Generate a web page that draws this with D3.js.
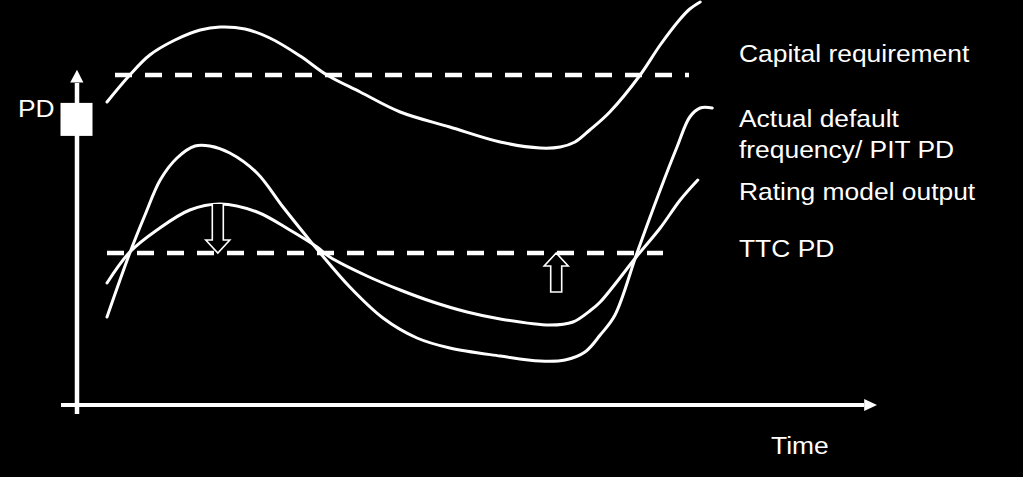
<!DOCTYPE html>
<html>
<head>
<meta charset="utf-8">
<script src="https://cdn.jsdelivr.net/npm/d3@7"></script>
<style>
  html, body { margin: 0; padding: 0; background: #000; }
  svg { display: block; }
  text { font-family: "Liberation Sans", Arial, sans-serif; fill: #fff; }
</style>
</head>
<body>
<svg id="chart" width="1023" height="477"></svg>
<script>
// ---- Data (time units 0..100, PD units 0..100) ----
const capitalTime = [3.75, 6.6, 9.1, 12.25, 15.4, 17.9, 21, 24.1, 27.9, 31.25, 35.4, 40.4, 46.6, 52.9, 57.9, 60.4, 62.25, 64.1, 66.6, 70.4, 72.9, 75.4, 76.6, 77.9];
const capitalPD   = [75.75, 82.5, 87.5, 91.25, 93.75, 94.5, 94, 91.75, 87.25, 82.5, 78.25, 73.25, 69.5, 65.75, 64.25, 64.5, 65.75, 68.75, 73.25, 82.5, 90, 96.5, 99, 100.75];

const pitTime = [3.75, 6.6, 8.5, 10.4, 12.5, 14.75, 16.6, 19.1, 22.5, 25.75, 28.75, 30.4, 34.1, 38.25, 42.5, 46.6, 52.9, 57.9, 61, 63.5, 65.4, 67.25, 70, 72.9, 75, 76.6, 77.9, 79.4];
const pitPD   = [22, 38, 47.5, 56.25, 61.75, 64.75, 64.75, 63, 58, 49.5, 42, 38, 29.5, 21.75, 16.75, 14.25, 12.25, 11, 11.25, 13.25, 17.5, 22.5, 38, 53.75, 64.5, 72, 74.25, 74.25];

const ratingTime = [3.75, 6.6, 10, 14.1, 17.9, 22.5, 26.6, 30, 31.6, 36.25, 40.4, 44.5, 48.75, 52.9, 59.1, 62, 64.1, 65.4, 70, 72.9, 75.4, 77.6];
const ratingPD   = [30.5, 38.25, 43.75, 48.75, 50.25, 48.25, 43.75, 39.5, 37, 32.25, 28.75, 25.75, 23.25, 21.5, 20, 20.75, 23.5, 25.75, 37.25, 44.25, 51.25, 56.25];

const capitalLevel = 82.5, capitalStart = 4.75, capitalEnd = 76.5;
const ttcLevel = 38, ttcStart = 3.75, ttcEnd = 73.25;

const arrowDown = {t: 17.6, from: 50.25, to: 38};
const arrowUp   = {t: 59.9, from: 28.25, to: 38};

const pdMarker = 71.4;

const legendLabels = [
  {lines: ["Capital requirement"], y: 62},
  {lines: ["Actual default", "frequency/ PIT PD"], y: 127},
  {lines: ["Rating model output"], y: 200},
  {lines: ["TTC PD"], y: 257}
];
const yAxisLabel = "PD";
const xAxisLabel = "Time";

// ---- Scales ----
const x = d3.scaleLinear().domain([0, 100]).range([77, 877]);
const y = d3.scaleLinear().domain([0, 100]).range([405, 5]);

const svg = d3.select("#chart");
svg.append("rect").attr("width", 1023).attr("height", 477).attr("fill", "#000");

const line = d3.line().x(d => x(d[0])).y(d => y(d[1])).curve(d3.curveCatmullRom.alpha(0.5));
const zip = (a, b) => a.map((v, i) => [v, b[i]]);

// dashed levels
function dashed(level, t0, t1) {
  svg.append("line")
    .attr("x1", x(t0)).attr("x2", x(t1))
    .attr("y1", y(level)).attr("y2", y(level))
    .attr("stroke", "#fff").attr("stroke-width", 4.5)
    .attr("stroke-dasharray", "17,13");
}
dashed(capitalLevel, capitalStart, capitalEnd);
dashed(ttcLevel, ttcStart, ttcEnd);

// curves
[[capitalTime, capitalPD], [pitTime, pitPD], [ratingTime, ratingPD]].forEach(([t, v]) => {
  svg.append("path").attr("d", line(zip(t, v)))
    .attr("fill", "none").attr("stroke", "#fff").attr("stroke-width", 3)
    .attr("stroke-linecap", "round");
});

// hollow arrows
function hollowArrow(a) {
  const cx = x(a.t), yFrom = y(a.from), yTo = y(a.to);
  const dir = yTo > yFrom ? 1 : -1;
  const headLen = 13, headHalf = 12, shaftHalf = 5.5;
  const yBase = yTo - dir * headLen;
  const pts = [
    [cx - shaftHalf, yFrom], [cx - shaftHalf, yBase], [cx - headHalf, yBase],
    [cx, yTo], [cx + headHalf, yBase], [cx + shaftHalf, yBase], [cx + shaftHalf, yFrom]
  ];
  svg.append("path").attr("d", d3.line()(pts) + (dir > 0 ? "" : "Z"))
    .attr("fill", "#000").attr("stroke", "#fff").attr("stroke-width", 1.6)
    .attr("stroke-linejoin", "miter");
}
hollowArrow(arrowDown);
hollowArrow(arrowUp);

// axes
svg.append("line").attr("x1", x(-2)).attr("x2", x(98.4)).attr("y1", y(0)).attr("y2", y(0))
  .attr("stroke", "#fff").attr("stroke-width", 4);
svg.append("line").attr("x1", x(0)).attr("x2", x(0)).attr("y1", y(-2.25)).attr("y2", y(80.5))
  .attr("stroke", "#fff").attr("stroke-width", 4.5);
// arrow heads
svg.append("path").attr("d", d3.line()([[x(100), y(0)], [x(98.4), y(1.5)], [x(98.4), y(-1.5)]]) + "Z").attr("fill", "#fff");
svg.append("path").attr("d", d3.line()([[x(0), y(83.8)], [x(-0.85), y(80.6)], [x(0.8), y(80.6)]]) + "Z").attr("fill", "#fff");
// PD marker
svg.append("rect").attr("x", x(0) - 16.5).attr("y", y(pdMarker) - 16.5).attr("width", 32).attr("height", 33).attr("fill", "#fff");

// texts
function label(str, px, py) {
  svg.append("text").attr("transform", `translate(${px},${py}) scale(1.1,1)`)
    .attr("font-size", 24).text(str);
}
legendLabels.forEach(l => {
  l.lines.forEach((s, i) => label(s, 739, l.y + i * 31));
});
label(yAxisLabel, 18, 117);
label(xAxisLabel, 771, 454);
</script>
</body>
</html>
